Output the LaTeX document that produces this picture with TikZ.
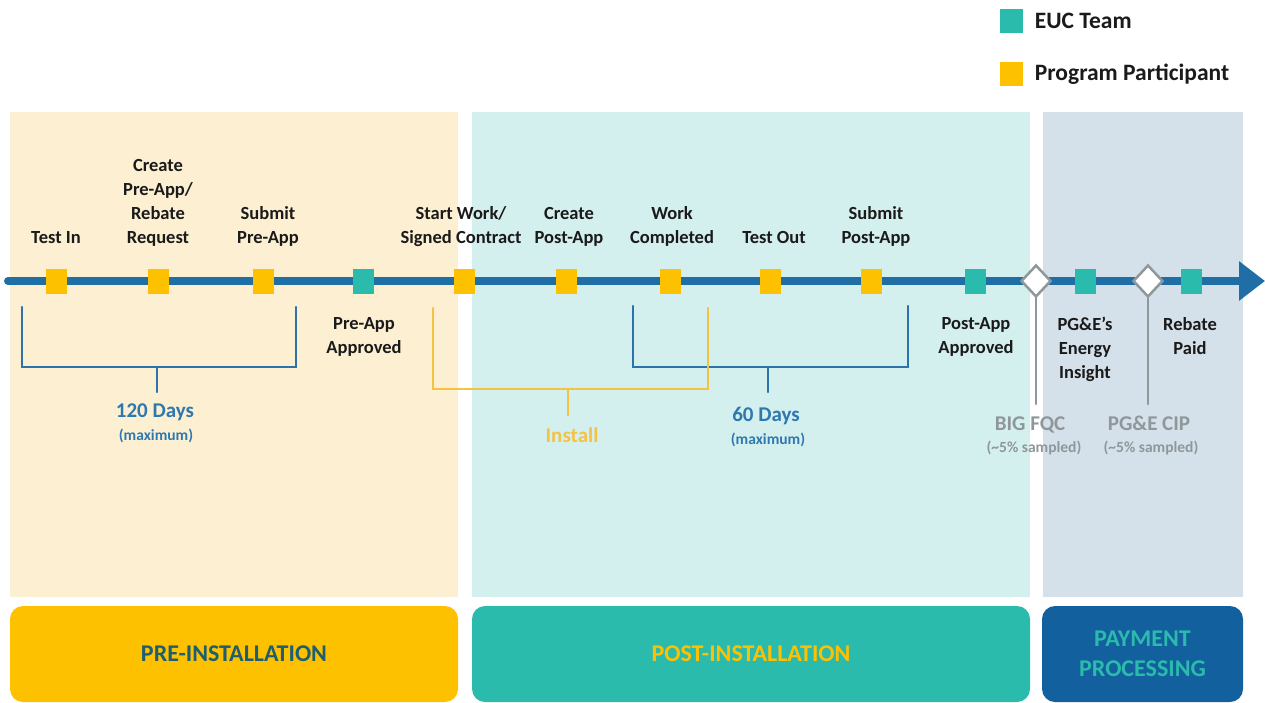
\documentclass[tikz,border=0pt]{standalone}
\usepackage{fontspec}
\setmainfont{Carlito}
\usetikzlibrary{arrows.meta,positioning,shapes.geometric}

\definecolor{ppyel}{HTML}{FDC100}
\definecolor{eucteal}{HTML}{2BBBAD}
\definecolor{tlblue}{HTML}{1F6FA6}
\definecolor{brblue}{HTML}{2B73A8}
\definecolor{dayblue}{HTML}{2E78B0}
\definecolor{insyel}{HTML}{F5C244}
\definecolor{qcgray}{HTML}{8F979B}
\definecolor{prebg}{HTML}{FDF0D2}
\definecolor{postbg}{HTML}{D4F0EE}
\definecolor{paybg}{HTML}{D4E1EA}
\definecolor{paybox}{HTML}{13609E}
\definecolor{pretxt}{HTML}{1F5E6E}
\definecolor{lbltxt}{HTML}{1A1A1A}

\begin{document}
\begin{tikzpicture}[x=1pt,y=1pt,
 yb/.style={fill=ppyel,minimum width=21,minimum height=25,inner sep=0},
 tb/.style={fill=eucteal,minimum width=21,minimum height=25,inner sep=0},
 dm/.style={diamond,draw=qcgray,fill=white,line width=2.5,minimum width=30,minimum height=32,inner sep=0},
 up/.style={anchor=south,align=center,inner sep=0,text depth=0pt,text=lbltxt,font=\bfseries\fontsize{18.5}{24}\selectfont},
 dn/.style={anchor=north,align=center,inner sep=0,text=lbltxt,font=\bfseries\fontsize{18.5}{24}\selectfont},
 days/.style={anchor=base,inner sep=0,font=\bfseries\fontsize{21}{25}\selectfont},
 note/.style={anchor=base,inner sep=0,font=\bfseries\fontsize{15.5}{18}\selectfont},
 key/.style={inner sep=0,text=lbltxt,font=\bfseries\fontsize{23.5}{26}\selectfont},
 br/.style={line width=2.5,line cap=round},
 phase/.style={rounded corners=13,align=center,font=\bfseries\fontsize{24}{30}\selectfont},
 a/.style={line width=8,draw=tlblue,line cap=round,-{Triangle[length=26pt,width=38pt]}}]
\useasboundingbox (0,0) rectangle (1265,-702);

% phase backgrounds
\fill[prebg] (10,-112) rectangle (458,-597);
\fill[postbg] (472,-112) rectangle (1030,-597);
\fill[paybg] (1043,-112) rectangle (1243,-597);

% phase boxes
\node[phase,fill=ppyel,text=pretxt,minimum width=448,minimum height=96] (pre) at (234,-654) {PRE-INSTALLATION};
\node[phase,fill=eucteal,text=ppyel,minimum width=558,minimum height=96] (post) at (751,-654) {POST-INSTALLATION};
\node[phase,fill=paybox,text=eucteal,minimum width=201,minimum height=96] (pay) at (1142.5,-654) {PAYMENT\\PROCESSING};

% legend
\node[tb,minimum width=23,minimum height=24] (euckey) at (1011,-21) {};
\node[key,right=12pt of euckey] (euctxt) {EUC Team};
\node[yb,minimum width=23,minimum height=24] (ppkey) at (1011,-74) {};
\node[key,right=12pt of ppkey] (pptxt) {Program Participant};

% timeline
\coordinate (t0) at (8,-281);
\coordinate (t1) at (1265,-281);
\draw[a] (t0) -- (t1);

\node[yb] (testin) at (56,-281) {};
\node[yb] (createpre) at (158,-281) {};
\node[yb] (submitpre) at (263,-281) {};
\node[tb] (preok) at (363,-281) {};
\node[yb] (startwork) at (464,-281) {};
\node[yb] (createpost) at (566,-281) {};
\node[yb] (workdone) at (670,-281) {};
\node[yb] (testout) at (770,-281) {};
\node[yb] (submitpost) at (871,-281) {};
\node[tb] (postok) at (975,-281) {};
\node[dm] (fqc) at (1036,-281) {};
\node[tb] (insight) at (1085,-281) {};
\node[dm] (cip) at (1148,-281) {};
\node[tb] (paid) at (1191,-281) {};

% step labels
\node[up] (testinlbl) at (56,-244) {Test In};
\node[up] (createprelbl) at (158,-244) {Create\\Pre-App/\\Rebate\\Request};
\node[up] (submitprelbl) at (268,-244) {Submit\\Pre-App};
\node[up] (startworklbl) at (461,-244) {Start Work/\\Signed Contract};
\node[up] (createpostlbl) at (569,-244) {Create\\Post-App};
\node[up] (workdonelbl) at (672,-244) {Work\\Completed};
\node[up] (testoutlbl) at (774,-244) {Test Out};
\node[up] (submitpostlbl) at (876,-244) {Submit\\Post-App};
\node[dn] (preoklbl) at (364,-317) {Pre-App\\Approved};
\node[dn] (postoklbl) at (976,-317) {Post-App\\Approved};
\node[dn] (insightlbl) at (1085,-317) {PG\&E's\\Energy\\Insight};
\node[dn] (paidlbl) at (1190,-317) {Rebate\\Paid};

% durations
\draw[br,brblue] (22,-307) |- (296,-367) -- (296,-307);
\draw[br,brblue] (157,-367) -- (157,-392);
\draw[br,brblue] (633,-306) |- (908,-367) -- (908,-306);
\draw[br,brblue] (768,-367) -- (768,-392);
\draw[br,insyel] (433,-308) |- (708,-389) -- (708,-308);
\draw[br,insyel] (568,-389) -- (568,-415);
\node[days,text=dayblue] (d120) at (155,-417) {120 Days};
\node[note,text=dayblue] (d120max) at (156,-440) {(maximum)};
\node[days,text=insyel] (install) at (572,-442) {Install};
\node[days,text=dayblue] (d60) at (766,-421) {60 Days};
\node[note,text=dayblue] (d60max) at (768,-444) {(maximum)};

% quality checks
\coordinate (fqcend) at (1036,-404);
\coordinate (cipend) at (1148,-404);
\draw[br,qcgray] (fqc.south) -- (fqcend);
\draw[br,qcgray] (cip.south) -- (cipend);
\node[days,text=qcgray] (fqclbl) at (1030,-430) {BIG FQC};
\node[note,text=qcgray] (fqcnote) at (1034,-452) {(\textasciitilde 5\% sampled)};
\node[days,text=qcgray] (ciplbl) at (1149,-430) {PG\&E CIP};
\node[note,text=qcgray] (cipnote) at (1151,-452) {(\textasciitilde 5\% sampled)};
\end{tikzpicture}
\end{document}
